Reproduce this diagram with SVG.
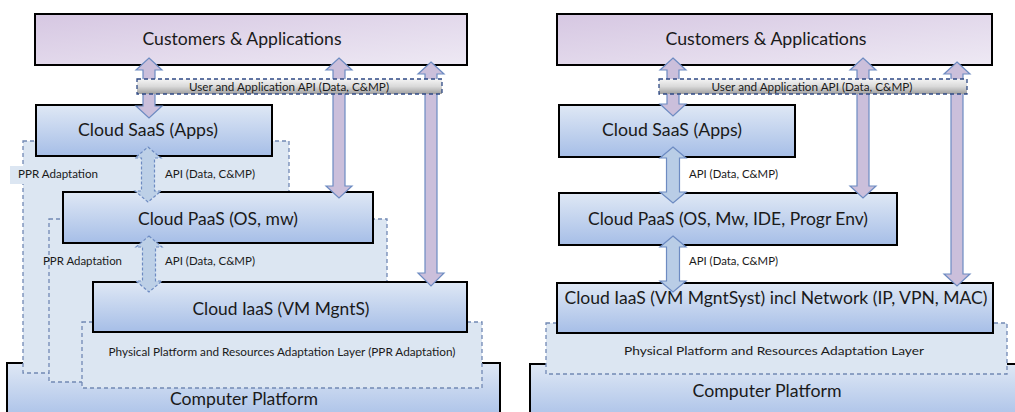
<svg xmlns="http://www.w3.org/2000/svg" width="1015" height="412" viewBox="0 0 1015 412">
<defs>
<linearGradient id="gBox" x1="0" y1="0" x2="0" y2="1">
<stop offset="0" stop-color="#dfe8f5"/>
<stop offset="1" stop-color="#a6bee7"/>
</linearGradient>
<linearGradient id="gCust" x1="0" y1="0" x2="1" y2="1">
<stop offset="0" stop-color="#d6c7e2"/>
<stop offset="1" stop-color="#eee9f4"/>
</linearGradient>
<linearGradient id="gBar" x1="0" y1="0" x2="0" y2="1">
<stop offset="0" stop-color="#f4f4f4"/>
<stop offset="0.5" stop-color="#d9d9d9"/>
<stop offset="1" stop-color="#9f9f9f"/>
</linearGradient>
<style>
.box{fill:url(#gBox);stroke:#000;stroke-width:2}
.cust{fill:url(#gCust);stroke:#000;stroke-width:2}
.region{fill:#dce6f2;stroke:#7189b4;stroke-width:1.3;stroke-dasharray:4 3}
.bar{fill:url(#gBar);stroke:#2f4a85;stroke-width:1.3;stroke-dasharray:4 3}
.lav{fill:#cbbfdb;stroke:#6d8bc2;stroke-width:1.2}
.blue{fill:#b9cde6;stroke:#6d8bc2;stroke-width:1.2}
.dblue{fill:#bdd0e7;stroke:#6d8bc2;stroke-width:1.2;stroke-dasharray:3 2}
text{font-family:Lato,"Liberation Sans",sans-serif;fill:#1a1a1a}
.big{font-size:18px;text-anchor:middle}
.mid{font-size:12px}
.sm{font-size:11px;text-anchor:middle}
</style>
</defs>

<!-- LEFT PANEL -->
<g id="left-platform">
<rect class="box" x="7" y="363" width="493" height="60"/>
<text class="big" x="244" y="405" textLength="148" lengthAdjust="spacingAndGlyphs">Computer Platform</text>
</g>
<g id="left-ppr-saas">
<rect class="region" x="23" y="141" width="266" height="232"/>
<rect x="10" y="166" width="80" height="18" fill="#dce6f2"/>
<text class="mid" x="18" y="178" textLength="80" lengthAdjust="spacingAndGlyphs">PPR Adaptation</text>
</g>
<g id="left-ppr-paas">
<rect class="region" x="49" y="219" width="338" height="163"/>
<text class="mid" x="43" y="265" textLength="79" lengthAdjust="spacingAndGlyphs">PPR Adaptation</text>
</g>
<g id="left-ppr-iaas">
<rect class="region" x="82" y="322" width="400" height="66"/>
<text class="mid" x="282" y="356" text-anchor="middle" textLength="347" lengthAdjust="spacingAndGlyphs">Physical Platform and Resources Adaptation Layer (PPR Adaptation)</text>
</g>
<g id="left-customers">
<rect class="cust" x="35" y="14" width="432" height="51"/>
<text class="big" x="242" y="45" textLength="199" lengthAdjust="spacingAndGlyphs">Customers &amp; Applications</text>
</g>
<g id="left-saas">
<rect class="box" x="36" y="105" width="236" height="51"/>
<text class="big" x="148" y="136" textLength="140" lengthAdjust="spacingAndGlyphs">Cloud SaaS (Apps)</text>
</g>
<g id="left-paas">
<rect class="box" x="63" y="192" width="310" height="51"/>
<text class="big" x="218" y="225" textLength="160" lengthAdjust="spacingAndGlyphs">Cloud PaaS (OS, mw)</text>
</g>
<g id="left-iaas">
<rect class="box" x="93" y="282" width="374" height="50"/>
<text class="big" x="281" y="315" textLength="177" lengthAdjust="spacingAndGlyphs">Cloud IaaS (VM MgntS)</text>
</g>

<!-- RIGHT PANEL -->
<g id="right-platform">
<rect class="box" x="530" y="364" width="495" height="60"/>
<text class="big" x="767" y="397" textLength="149" lengthAdjust="spacingAndGlyphs">Computer Platform</text>
</g>
<g id="right-ppr">
<rect class="region" x="546" y="323" width="461" height="51"/>
<text class="mid" x="774" y="355" text-anchor="middle" textLength="300" lengthAdjust="spacingAndGlyphs">Physical Platform and Resources Adaptation Layer</text>
</g>
<g id="right-customers">
<rect class="cust" x="557" y="14" width="435" height="51"/>
<text class="big" x="766" y="45" textLength="201" lengthAdjust="spacingAndGlyphs">Customers &amp; Applications</text>
</g>
<g id="right-saas">
<rect class="box" x="559" y="105" width="236" height="52"/>
<text class="big" x="672" y="136" textLength="140" lengthAdjust="spacingAndGlyphs">Cloud SaaS (Apps)</text>
</g>
<g id="right-paas">
<rect class="box" x="559" y="193" width="338" height="52"/>
<text class="big" x="728" y="225" textLength="280" lengthAdjust="spacingAndGlyphs">Cloud PaaS (OS, Mw, IDE, Progr Env)</text>
</g>
<g id="right-iaas">
<rect class="box" x="557" y="283" width="436" height="50"/>
<text class="big" x="776" y="304" textLength="423" lengthAdjust="spacingAndGlyphs">Cloud IaaS (VM MgntSyst) incl Network (IP, VPN, MAC)</text>
</g>

<!-- CONNECTORS -->
<g id="connectors">
<path class="lav" d="M149,58 L162,70 L155,70 L155,106 L162,106 L149,118 L136,106 L143,106 L143,70 L136,70 Z"/>
<path class="lav" d="M339,58 L352,70 L345,70 L345,186 L352,186 L339,198 L326,186 L333,186 L333,70 L326,70 Z"/>
<path class="lav" d="M431,62 L444,74 L437,74 L437,273 L444,273 L431,286 L418,273 L425,273 L425,74 L418,74 Z"/>
<path class="dblue" d="M148,147 L161,158 L154.5,158 L154.5,191 L161,191 L148,202 L135,191 L141.5,191 L141.5,158 L135,158 Z"/>
<path class="dblue" d="M149,236 L162,247 L155.5,247 L155.5,281 L162,281 L149,292 L136,281 L142.5,281 L142.5,247 L136,247 Z"/>
<text class="mid" x="165" y="178" textLength="90" lengthAdjust="spacingAndGlyphs">API (Data, C&amp;MP)</text>
<text class="mid" x="165" y="265" textLength="90" lengthAdjust="spacingAndGlyphs">API (Data, C&amp;MP)</text>

<path class="lav" d="M673,58 L686,70 L679,70 L679,104 L686,104 L673,116 L660,104 L667,104 L667,70 L660,70 Z"/>
<path class="lav" d="M863,58 L876,70 L869,70 L869,186 L876,186 L863,198 L850,186 L857,186 L857,70 L850,70 Z"/>
<path class="lav" d="M957,62 L970,74 L963,74 L963,274 L970,274 L957,286 L944,274 L951,274 L951,74 L944,74 Z"/>
<path class="blue" d="M673,147 L686,158 L679.5,158 L679.5,192 L686,192 L673,203 L660,192 L666.5,192 L666.5,158 L660,158 Z"/>
<path class="blue" d="M673,236 L686,247 L679.5,247 L679.5,281 L686,281 L673,292 L660,281 L666.5,281 L666.5,247 L660,247 Z"/>
<text class="mid" x="689" y="178" textLength="89" lengthAdjust="spacingAndGlyphs">API (Data, C&amp;MP)</text>
<text class="mid" x="689" y="265" textLength="89" lengthAdjust="spacingAndGlyphs">API (Data, C&amp;MP)</text>
</g>

<g id="left-api-bar">
<rect class="bar" x="137" y="79" width="305" height="15"/>
<text class="sm" x="289" y="91" textLength="200" lengthAdjust="spacingAndGlyphs">User and Application API (Data, C&amp;MP)</text>
</g>
<g id="right-api-bar">
<rect class="bar" x="659" y="79" width="308" height="15"/>
<text class="sm" x="812" y="91" textLength="201" lengthAdjust="spacingAndGlyphs">User and Application API (Data, C&amp;MP)</text>
</g>
</svg>
